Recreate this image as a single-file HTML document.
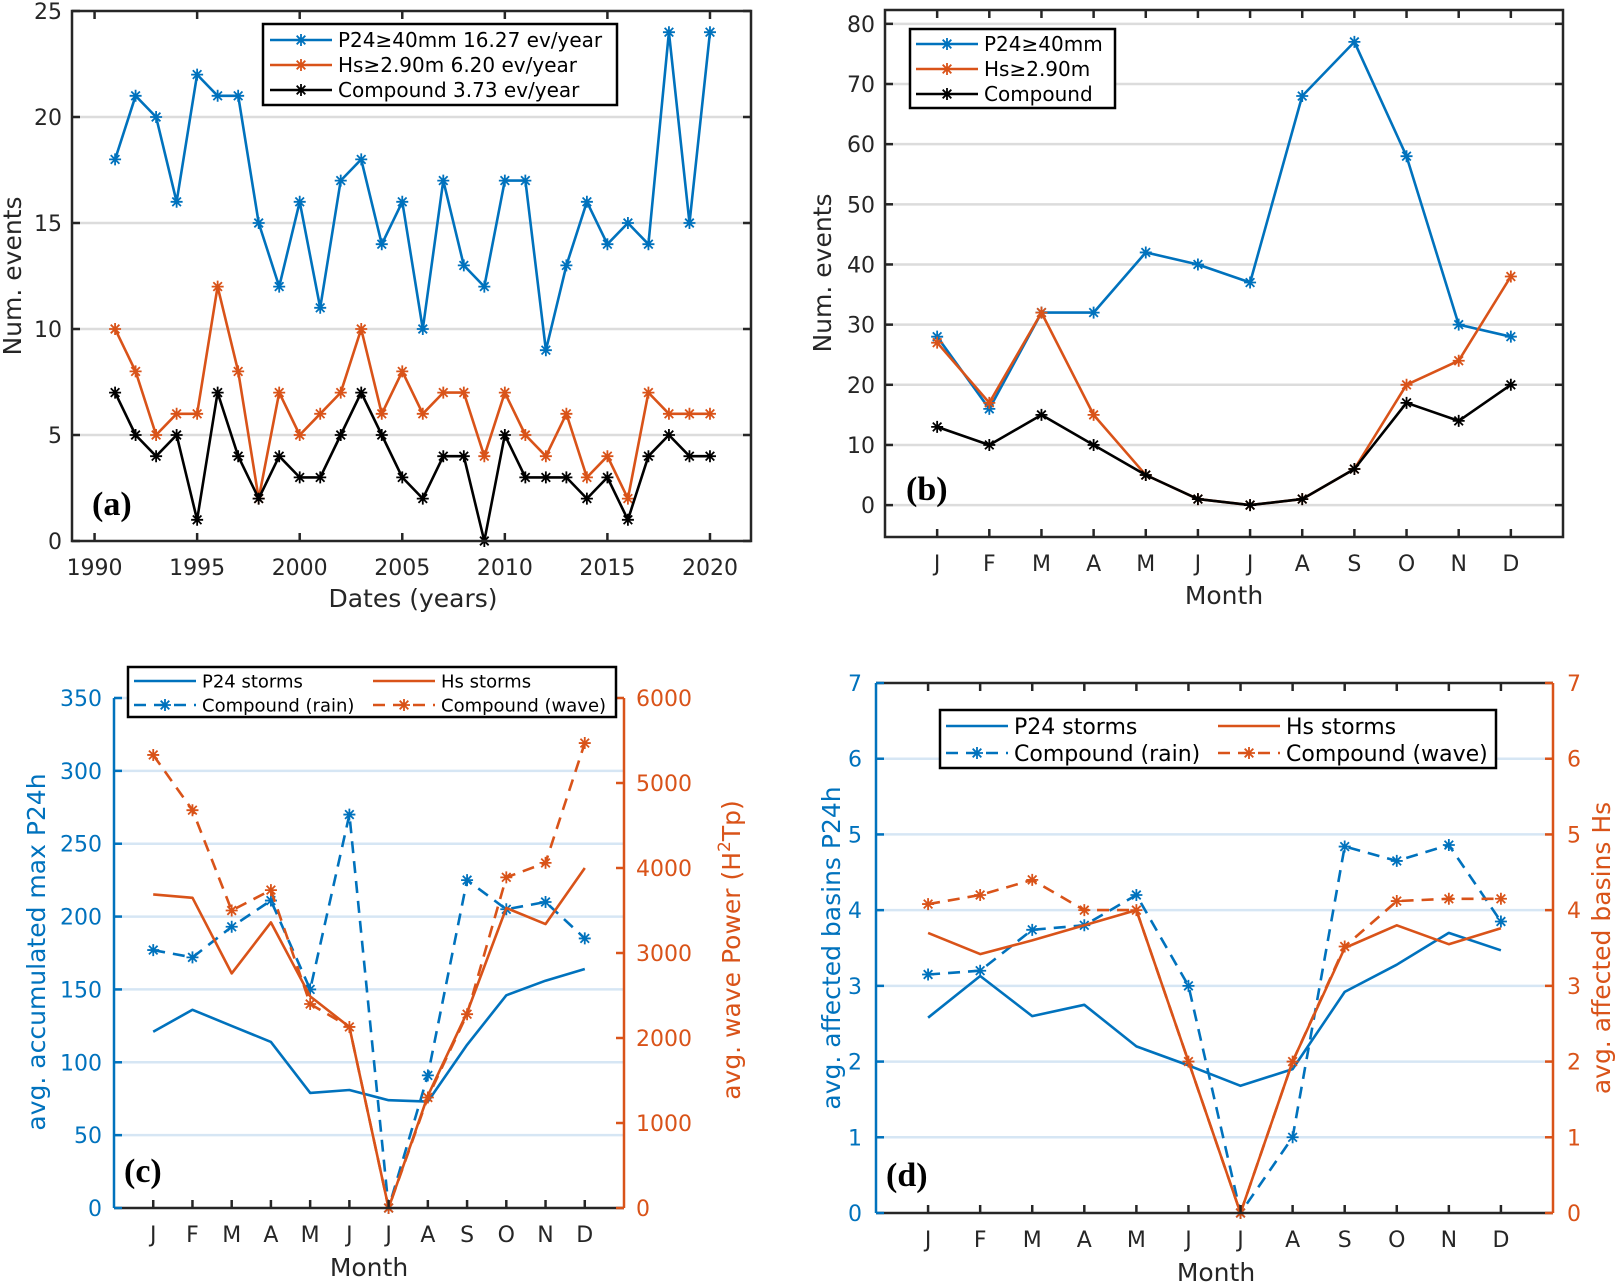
<!DOCTYPE html>
<html><head><meta charset="utf-8"><style>
html,body{margin:0;padding:0;background:#fff;}
svg{display:block;font-family:"DejaVu Sans","Liberation Sans",sans-serif;}
</style></head><body>
<svg id="fig" width="1618" height="1286" viewBox="0 0 1618 1286" xmlns="http://www.w3.org/2000/svg"></svg>
<script>
// ---------- data ----------
const years = [];
for (let y = 1991; y <= 2020; y++) years.push(y);
const aP24 = [18,21,20,16,22,21,21,15,12,16,11,17,18,14,16,10,17,13,12,17,17,9,13,16,14,15,14,24,15,24];
const aHs  = [10,8,5,6,6,12,8,2,7,5,6,7,10,6,8,6,7,7,4,7,5,4,6,3,4,2,7,6,6,6];
const aComp= [7,5,4,5,1,7,4,2,4,3,3,5,7,5,3,2,4,4,0,5,3,3,3,2,3,1,4,5,4,4];
const aYearTicks = [1990,1995,2000,2005,2010,2015,2020];
const aYTicks = [0,5,10,15,20,25];

const months = ['J','F','M','A','M','J','J','A','S','O','N','D'];
const bP24 = [28,16,32,32,42,40,37,68,77,58,30,28];
const bHs  = [27,17,32,15,5,1,0,1,6,20,24,38];
const bComp= [13,10,15,10,5,1,0,1,6,17,14,20];
const bYTicks = [0,10,20,30,40,50,60,70,80];

const cP24  = [121,136,125,114,79,81,74,73,112,146,156,164];
const cRain = [177,172,193,211,150,270,0,91,225,205,210,185];
const cHs   = [3690,3650,2760,3360,2490,2130,0,1320,2300,3530,3340,4000];
const cWave = [5330,4680,3500,3740,2400,2130,0,1300,2280,3890,4060,5470];
const cLeftTicks = [0,50,100,150,200,250,300,350];
const cRightTicks = [0,1000,2000,3000,4000,5000,6000];

const dP24  = [2.58,3.13,2.6,2.75,2.2,1.95,1.68,1.9,2.92,3.28,3.7,3.47];
const dRain = [3.15,3.2,3.74,3.8,4.2,3.0,0,1.0,4.84,4.65,4.86,3.85];
const dHs   = [3.7,3.42,3.6,3.8,4.0,2.0,0,2.0,3.5,3.8,3.55,3.76];
const dWave = [4.08,4.2,4.4,4.0,4.0,2.0,0,2.0,3.52,4.12,4.15,4.15];
const dTicks = [0,1,2,3,4,5,6,7];

// ---------- helpers ----------
const NS = 'http://www.w3.org/2000/svg';
const svg = document.getElementById('fig');
const BLUE = '#0072BD', ORANGE = '#D95319', DARK = '#262626', BLACK = '#000';
function el(tag, attrs, parent, text) {
  const e = document.createElementNS(NS, tag);
  for (const k in attrs) e.setAttribute(k, attrs[k]);
  if (text !== undefined) e.textContent = text;
  (parent || svg).appendChild(e);
  return e;
}
function lin(d0, d1, r0, r1) { return v => r0 + (v - d0) / (d1 - d0) * (r1 - r0); }
function star(g, x, y, color) {
  const s = 6;
  el('path', {d:`M${x-s},${y}H${x+s}M${x},${y-s}V${y+s}M${x-s*0.72},${y-s*0.72}L${x+s*0.72},${y+s*0.72}M${x-s*0.72},${y+s*0.72}L${x+s*0.72},${y-s*0.72}`, stroke:color, 'stroke-width':1.8, fill:'none'}, g);
}
function series(parent, name, xs, ys, sx, sy, color, opts) {
  const g = el('g', {}, parent);
  
  
  const pts = xs.map((x, i) => sx(x).toFixed(1) + ',' + sy(ys[i]).toFixed(1)).join(' ');
  const pl = el('polyline', {points:pts, fill:'none', stroke:color, 'stroke-width':opts.w || 2.6, 'stroke-linejoin':'round'}, g);
  if (opts.dash) pl.setAttribute('stroke-dasharray', opts.dash);
  if (opts.marker) xs.forEach((x, i) => star(g, sx(x), sy(ys[i]), color));
  return g;
}
function text(parent, x, y, s, attrs, name) {
  const t = el('text', Object.assign({x:x, y:y, fill:DARK, 'font-size':22}, attrs || {}), parent, s);
  
  
  return t;
}
function panelLabel(parent, x, y, s) {
  text(parent, x, y, s, {'font-family':'"Liberation Serif",serif', 'font-weight':'bold', 'font-size':34, fill:BLACK}, 'panel-label');
}
function legendEntry(g, x, y, color, label, opts, fs) {
  const e = el('g', {}, g);
  
  
  const ln = el('line', {x1:x, y1:y, x2:x+opts.len, y2:y, stroke:color, 'stroke-width':2.6}, e);
  if (opts.dash) ln.setAttribute('stroke-dasharray', opts.dash);
  if (opts.marker) star(e, x + opts.len/2, y, color);
  text(e, x + opts.len + 6, y + fs*0.36, label, {'font-size':fs, fill:BLACK}, 'legend-text');
}

// ---------- panel (a) ----------
(function(){
  const g = el('g', {});  
  const L=72, R=751, T=11, B=541;
  const sx = lin(1988.9, 2022, L, R), sy = lin(0, 25, B, T);
  aYTicks.forEach(v => { if (v>0 && v<25) el('line',{x1:L,x2:R,y1:sy(v),y2:sy(v),stroke:'#dcdcdc','stroke-width':2.5},g); });
  series(g,'series-p24',years,aP24,sx,sy,BLUE,{marker:true});
  series(g,'series-hs',years,aHs,sx,sy,ORANGE,{marker:true});
  series(g,'series-compound',years,aComp,sx,sy,BLACK,{marker:true});
  el('rect',{x:L,y:T,width:R-L,height:B-T,fill:'none',stroke:DARK,'stroke-width':2.5},g);
  aYTicks.forEach(v => {
    el('line',{x1:L,x2:L+8,y1:sy(v),y2:sy(v),stroke:DARK,'stroke-width':2.5},g);
    el('line',{x1:R,x2:R-8,y1:sy(v),y2:sy(v),stroke:DARK,'stroke-width':2.5},g);
    text(g, L-10, sy(v)+8, String(v), {'text-anchor':'end'}, 'y-tick-label');
  });
  aYearTicks.forEach(v => {
    el('line',{x1:sx(v),x2:sx(v),y1:B,y2:B-8,stroke:DARK,'stroke-width':2.5},g);
    el('line',{x1:sx(v),x2:sx(v),y1:T,y2:T+8,stroke:DARK,'stroke-width':2.5},g);
    text(g, sx(v), B+34, String(v), {'text-anchor':'middle'}, 'x-tick-label');
  });
  text(g, 413, 607, 'Dates (years)', {'text-anchor':'middle','font-size':25}, 'x-axis-title');
  text(g, 0, 0, 'Num. events', {'text-anchor':'middle','font-size':25,transform:'translate(21,276) rotate(-90)'}, 'y-axis-title');
  const lg = el('g',{},g);  
  el('rect',{x:263,y:24,width:354,height:81,fill:'#fff',stroke:BLACK,'stroke-width':2.5},lg);
  legendEntry(lg,270,40,BLUE,'P24\u226540mm 16.27 ev/year',{len:62,marker:true},20);
  legendEntry(lg,270,65,ORANGE,'Hs\u22652.90m 6.20 ev/year',{len:62,marker:true},20);
  legendEntry(lg,270,90,BLACK,'Compound 3.73 ev/year',{len:62,marker:true},20);
  panelLabel(g, 92, 515, '(a)');
})();

// ---------- panel (b) ----------
(function(){
  const g = el('g', {});  
  const L=885, R=1563, T=10, B=537;
  const sx = lin(0, 13, L, R), sy = lin(-5.3, 82.3, B, T);
  const mx = months.map((m,i)=>i+1);
  bYTicks.forEach(v => el('line',{x1:L,x2:R,y1:sy(v),y2:sy(v),stroke:'#dcdcdc','stroke-width':2.5},g));
  series(g,'series-p24',mx,bP24,sx,sy,BLUE,{marker:true});
  series(g,'series-hs',mx,bHs,sx,sy,ORANGE,{marker:true});
  series(g,'series-compound',mx,bComp,sx,sy,BLACK,{marker:true});
  el('rect',{x:L,y:T,width:R-L,height:B-T,fill:'none',stroke:DARK,'stroke-width':2.5},g);
  bYTicks.forEach(v => {
    el('line',{x1:L,x2:L+8,y1:sy(v),y2:sy(v),stroke:DARK,'stroke-width':2.5},g);
    el('line',{x1:R,x2:R-8,y1:sy(v),y2:sy(v),stroke:DARK,'stroke-width':2.5},g);
    text(g, L-10, sy(v)+8, String(v), {'text-anchor':'end'}, 'y-tick-label');
  });
  months.forEach((m,i) => {
    el('line',{x1:sx(i+1),x2:sx(i+1),y1:B,y2:B-8,stroke:DARK,'stroke-width':2.5},g);
    el('line',{x1:sx(i+1),x2:sx(i+1),y1:T,y2:T+8,stroke:DARK,'stroke-width':2.5},g);
    text(g, sx(i+1), B+34, m, {'text-anchor':'middle'}, 'x-tick-label');
  });
  text(g, 1224, 604, 'Month', {'text-anchor':'middle','font-size':25}, 'x-axis-title');
  text(g, 0, 0, 'Num. events', {'text-anchor':'middle','font-size':25,transform:'translate(831,273) rotate(-90)'}, 'y-axis-title');
  const lg = el('g',{},g);  
  el('rect',{x:910,y:29,width:205,height:79,fill:'#fff',stroke:BLACK,'stroke-width':2.5},lg);
  legendEntry(lg,916,44,BLUE,'P24\u226540mm',{len:62,marker:true},20);
  legendEntry(lg,916,69,ORANGE,'Hs\u22652.90m',{len:62,marker:true},20);
  legendEntry(lg,916,94,BLACK,'Compound',{len:62,marker:true},20);
  panelLabel(g, 906, 500, '(b)');
})();

// ---------- panel (c) ----------
(function(){
  const g = el('g', {});  
  const L=114, R=624, T=698, B=1208;
  const sx = lin(0, 13, L, R), syL = lin(0, 350, B, T), syR = lin(0, 6000, B, T);
  const mx = months.map((m,i)=>i+1);
  cLeftTicks.forEach(v => { if (v>0) el('line',{x1:L,x2:R,y1:syL(v),y2:syL(v),stroke:'#d6e6f4','stroke-width':2.5},g); });
  series(g,'series-p24-storms',mx,cP24,sx,syL,BLUE,{});
  series(g,'series-compound-rain',mx,cRain,sx,syL,BLUE,{dash:'12,8',marker:true});
  series(g,'series-hs-storms',mx,cHs,sx,syR,ORANGE,{});
  series(g,'series-compound-wave',mx,cWave,sx,syR,ORANGE,{dash:'12,8',marker:true});
  el('line',{x1:L,x2:R,y1:B,y2:B,stroke:DARK,'stroke-width':2.5},g);
  el('line',{x1:L,x2:L,y1:T,y2:B,stroke:BLUE,'stroke-width':2.5},g);
  el('line',{x1:R,x2:R,y1:T,y2:B,stroke:ORANGE,'stroke-width':2.5},g);
  cLeftTicks.forEach(v => {
    el('line',{x1:L,x2:L+8,y1:syL(v),y2:syL(v),stroke:BLUE,'stroke-width':2.5},g);
    text(g, L-12, syL(v)+8, String(v), {'text-anchor':'end',fill:BLUE}, 'y-left-tick-label');
  });
  cRightTicks.forEach(v => {
    el('line',{x1:R,x2:R-8,y1:syR(v),y2:syR(v),stroke:ORANGE,'stroke-width':2.5},g);
    text(g, R+12, syR(v)+8, String(v), {'text-anchor':'start',fill:ORANGE}, 'y-right-tick-label');
  });
  months.forEach((m,i) => {
    el('line',{x1:sx(i+1),x2:sx(i+1),y1:B,y2:B-8,stroke:DARK,'stroke-width':2.5},g);
    text(g, sx(i+1), B+34, m, {'text-anchor':'middle'}, 'x-tick-label');
  });
  text(g, 369, 1276, 'Month', {'text-anchor':'middle','font-size':25}, 'x-axis-title');
  text(g, 0, 0, 'avg. accumulated max P24h', {'text-anchor':'middle','font-size':25,fill:BLUE,transform:'translate(45,952) rotate(-90)'}, 'y-left-axis-title');
  const rt = text(g, 0, 0, 'avg. wave Power (H', {'text-anchor':'middle','font-size':25,fill:ORANGE,transform:'translate(740,950) rotate(-90)'}, 'y-right-axis-title');
  el('tspan',{'baseline-shift':'super','font-size':17},rt,'2');
  el('tspan',{},rt,'Tp)');
  const lg = el('g',{},g);  
  el('rect',{x:128,y:667,width:488,height:50,fill:'#fff',stroke:BLACK,'stroke-width':2.5},lg);
  legendEntry(lg,134,681,BLUE,'P24 storms',{len:62},18);
  legendEntry(lg,134,705,BLUE,'Compound (rain)',{len:62,dash:'12,8',marker:true},18);
  legendEntry(lg,373,681,ORANGE,'Hs storms',{len:62},18);
  legendEntry(lg,373,705,ORANGE,'Compound (wave)',{len:62,dash:'12,8',marker:true},18);
  panelLabel(g, 124, 1182, '(c)');
})();

// ---------- panel (d) ----------
(function(){
  const g = el('g', {});  
  const L=876, R=1553, T=683, B=1213;
  const sx = lin(0, 13, L, R), sy = lin(0, 7, B, T);
  const mx = months.map((m,i)=>i+1);
  dTicks.forEach(v => { if (v>0 && v<7) el('line',{x1:L,x2:R,y1:sy(v),y2:sy(v),stroke:'#d6e6f4','stroke-width':2.5},g); });
  series(g,'series-p24-storms',mx,dP24,sx,sy,BLUE,{});
  series(g,'series-compound-rain',mx,dRain,sx,sy,BLUE,{dash:'12,8',marker:true});
  series(g,'series-hs-storms',mx,dHs,sx,sy,ORANGE,{});
  series(g,'series-compound-wave',mx,dWave,sx,sy,ORANGE,{dash:'12,8',marker:true});
  el('line',{x1:L,x2:R,y1:B,y2:B,stroke:DARK,'stroke-width':2.5},g);
  el('line',{x1:L,x2:R,y1:T,y2:T,stroke:DARK,'stroke-width':2.5},g);
  el('line',{x1:L,x2:L,y1:T,y2:B,stroke:BLUE,'stroke-width':2.5},g);
  el('line',{x1:R,x2:R,y1:T,y2:B,stroke:ORANGE,'stroke-width':2.5},g);
  dTicks.forEach(v => {
    el('line',{x1:L,x2:L+8,y1:sy(v),y2:sy(v),stroke:BLUE,'stroke-width':2.5},g);
    el('line',{x1:R,x2:R-8,y1:sy(v),y2:sy(v),stroke:ORANGE,'stroke-width':2.5},g);
    text(g, L-14, sy(v)+8, String(v), {'text-anchor':'end',fill:BLUE}, 'y-left-tick-label');
    text(g, R+14, sy(v)+8, String(v), {'text-anchor':'start',fill:ORANGE}, 'y-right-tick-label');
  });
  months.forEach((m,i) => {
    el('line',{x1:sx(i+1),x2:sx(i+1),y1:B,y2:B-8,stroke:DARK,'stroke-width':2.5},g);
    el('line',{x1:sx(i+1),x2:sx(i+1),y1:T,y2:T+8,stroke:DARK,'stroke-width':2.5},g);
    text(g, sx(i+1), B+34, m, {'text-anchor':'middle'}, 'x-tick-label');
  });
  text(g, 1216, 1281, 'Month', {'text-anchor':'middle','font-size':25}, 'x-axis-title');
  text(g, 0, 0, 'avg. affected basins P24h', {'text-anchor':'middle','font-size':25,fill:BLUE,transform:'translate(840,948) rotate(-90)'}, 'y-left-axis-title');
  text(g, 0, 0, 'avg. affected basins Hs', {'text-anchor':'middle','font-size':25,fill:ORANGE,transform:'translate(1610,948) rotate(-90)'}, 'y-right-axis-title');
  const lg = el('g',{},g);  
  el('rect',{x:940,y:710,width:556,height:58,fill:'#fff',stroke:BLACK,'stroke-width':2.5},lg);
  legendEntry(lg,946,726,BLUE,'P24 storms',{len:62},22);
  legendEntry(lg,946,753,BLUE,'Compound (rain)',{len:62,dash:'12,8',marker:true},22);
  legendEntry(lg,1218,726,ORANGE,'Hs storms',{len:62},22);
  legendEntry(lg,1218,753,ORANGE,'Compound (wave)',{len:62,dash:'12,8',marker:true},22);
  panelLabel(g, 886, 1186, '(d)');
})();
</script>
</body></html>
